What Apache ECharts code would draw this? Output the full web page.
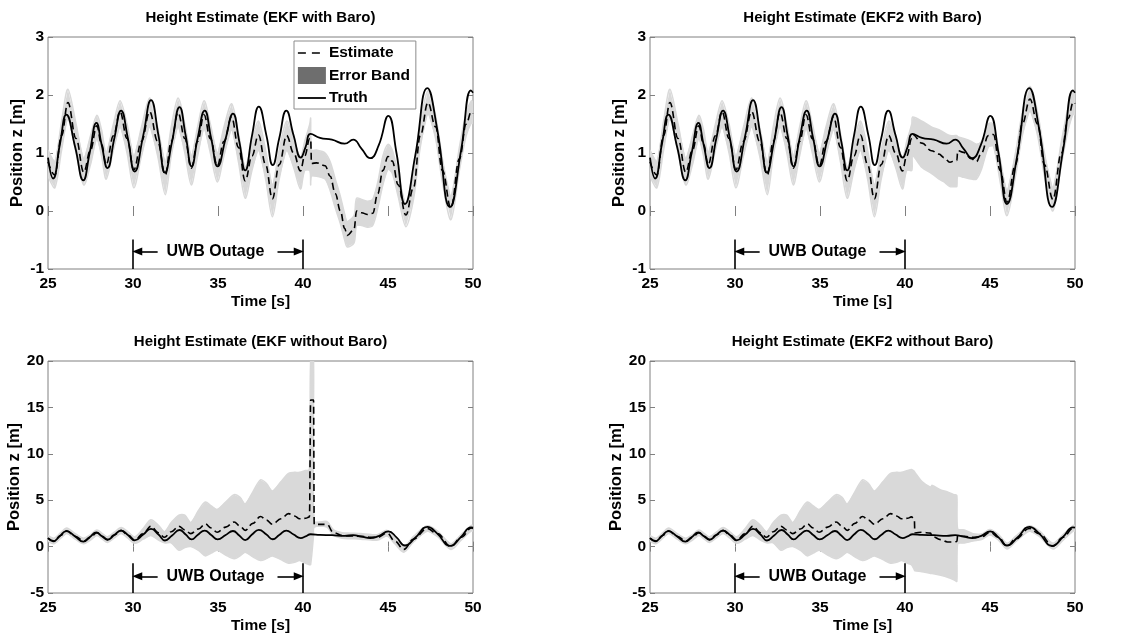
<!DOCTYPE html>
<html><head><meta charset="utf-8">
<script src="https://cdn.jsdelivr.net/npm/echarts@6/dist/echarts.min.js"></script>
<style>html,body{margin:0;padding:0;background:#fff}#c{width:1128px;height:637px}</style>
</head><body><div id="c"></div>
<script>
// ---------------- DATA ----------------
const panelTitles = ['Height Estimate (EKF with Baro)', 'Height Estimate (EKF2 with Baro)',
  'Height Estimate (EKF without Baro)', 'Height Estimate (EKF2 without Baro)'];
const legendNames = ['Estimate', 'Error Band', 'Truth'];
const outageLabel = 'UWB Outage';
const outageStart = 30, outageEnd = 40;

// Truth (same flight in all four panels)
const truthT = [25.0,25.3,25.7,26.08,26.6,27.08,27.45,27.85,28.15,28.5,28.9,29.3,29.7,30.1,30.6,31.06,31.5,31.88,32.3,32.74,33.1,33.45,33.8,34.22,34.6,34.98,35.45,35.88,36.25,36.6,37.0,37.4,37.85,38.22,38.6,39.02,39.45,39.87,40.15,40.45,41.0,41.7,42.45,42.95,43.45,43.95,44.45,45.02,45.5,46.0,46.6,47.32,47.9,48.65,49.3,49.88,50.0];
const truthZ = [0.92,0.56,1.15,1.66,1.1,0.53,1.0,1.52,1.15,0.74,1.25,1.73,1.25,0.68,1.3,1.91,1.3,0.66,1.2,1.79,1.3,0.77,1.25,1.73,1.25,0.77,1.25,1.68,1.2,0.70,1.3,1.80,1.3,0.79,1.25,1.73,1.3,0.92,1.1,1.33,1.26,1.23,1.16,1.23,1.07,0.91,1.13,1.64,1.0,0.12,0.95,2.12,1.4,0.07,1.05,2.08,2.04];

// With baro, 25 s – 40.4 s (identical for EKF and EKF2)
const baroPreT  = [25.0,25.4,25.8,26.17,26.65,27.1,27.5,27.87,28.15,28.42,28.85,29.24,29.65,30.05,30.5,30.98,31.45,31.9,32.25,32.65,33.05,33.43,33.8,34.18,34.55,34.96,35.35,35.8,36.2,36.6,37.0,37.38,37.8,38.2,38.6,39.04,39.45,39.85,40.1,40.4];
const baroPreZ  = [0.85,0.62,1.3,1.87,1.25,0.67,1.05,1.47,1.15,0.80,1.3,1.71,1.25,0.71,1.2,1.71,1.2,0.62,1.2,1.70,1.25,0.74,1.2,1.66,1.25,0.78,1.2,1.62,1.1,0.52,0.95,1.31,0.8,0.21,0.8,1.30,1.0,0.69,0.95,1.25];
const baroPreLo = [0.6,0.4,1.05,1.6,1.0,0.45,0.8,1.25,0.95,0.55,1.05,1.45,1.0,0.4,0.95,1.45,0.95,0.28,0.95,1.45,1.0,0.45,0.95,1.42,1.0,0.5,0.95,1.4,0.85,0.22,0.7,1.05,0.55,-0.1,0.55,1.05,0.75,0.38,0.7,0.7];
const baroPreHi = [1.05,0.85,1.55,2.1,1.5,0.9,1.3,1.65,1.4,1.0,1.5,1.9,1.5,0.95,1.45,1.95,1.45,0.85,1.45,1.95,1.5,0.95,1.45,1.9,1.5,1.0,1.45,1.85,1.35,0.75,1.2,1.55,1.05,0.45,1.05,1.55,1.25,0.92,1.2,1.5];

// EKF with baro, after 40.4 s
const ekfBaroT  = [40.45,40.5,40.8,41.3,41.6,41.9,42.2,42.45,42.6,43.0,43.15,43.45,43.8,44.1,44.4,44.7,45.0,45.25,45.6,46.05,46.5,46.9,47.35,47.8,48.2,48.7,49.2,49.6,49.9,50.0];
const ekfBaroZ  = [1.25,0.82,0.83,0.78,0.6,0.3,0.0,-0.3,-0.42,-0.32,0.0,-0.03,-0.06,-0.04,0.3,0.7,0.94,0.86,0.45,-0.07,0.4,1.3,1.87,1.45,0.7,0.05,0.9,1.5,1.71,1.68];
const ekfBaroLo = [0.45,0.6,0.6,0.55,0.35,0.05,-0.22,-0.5,-0.62,-0.55,-0.25,-0.25,-0.28,-0.25,0.05,0.45,0.72,0.65,0.25,-0.27,0.2,1.1,1.68,1.25,0.5,-0.15,0.7,1.3,1.52,1.5];
const ekfBaroHi = [1.6,1.05,1.05,1.0,0.85,0.55,0.25,-0.05,-0.18,-0.08,0.22,0.2,0.17,0.2,0.5,0.95,1.15,1.05,0.65,0.12,0.6,1.5,2.07,1.65,0.9,0.25,1.1,1.7,1.9,1.88];

// EKF2 with baro, after 40.4 s
const ekf2BaroT  = [40.45,41.0,41.55,42.0,42.3,42.64,42.96,43.05,43.1,43.45,43.9,44.2,44.5,44.9,45.2,45.6,46.0,46.5,46.9,47.35,47.8,48.2,48.7,49.2,49.6,49.9,50.0];
const ekf2BaroZ  = [1.32,1.17,1.04,0.98,0.92,0.84,0.87,0.87,1.04,1.01,0.9,0.85,1.0,1.3,1.32,0.7,0.15,0.8,1.5,1.93,1.5,0.8,0.2,1.0,1.6,1.88,1.85];
const ekf2BaroLo = [0.95,0.75,0.65,0.55,0.5,0.42,0.42,0.42,0.6,0.58,0.55,0.55,0.72,1.1,1.12,0.5,-0.08,0.6,1.3,1.72,1.3,0.6,0.0,0.8,1.4,1.68,1.65];
const ekf2BaroHi = [1.62,1.55,1.45,1.4,1.35,1.3,1.3,1.3,1.28,1.25,1.2,1.15,1.2,1.5,1.5,0.9,0.35,1.0,1.7,2.15,1.7,1.0,0.4,1.2,1.8,2.08,2.05];

// Without baro, 25 s – 40.38 s (identical for EKF and EKF2)
const noBaroPreT  = [25.0,25.35,25.75,26.1,26.6,27.1,27.5,27.87,28.2,28.5,28.9,29.3,29.7,30.1,30.6,31.05,31.5,31.85,32.25,32.7,33.05,33.4,33.85,34.25,34.6,34.95,35.45,35.95,36.3,36.6,37.05,37.5,37.85,38.2,38.7,39.15,39.5,39.8,40.15,40.38];
const noBaroPreZ  = [0.9,0.6,1.2,1.7,1.1,0.6,1.0,1.5,1.1,0.75,1.25,1.75,1.25,0.7,1.4,2.2,1.5,1.0,1.6,2.2,1.8,1.4,1.9,2.45,2.0,1.55,2.1,2.65,2.2,1.75,2.5,3.25,2.85,2.4,3.0,3.55,3.3,3.0,3.05,3.2];
const noBaroPreLo = [0.6,0.3,0.9,1.4,0.8,0.3,0.7,1.2,0.8,0.45,0.95,1.4,0.9,0.35,0.8,1.2,0.7,0.4,0.4,-0.4,-0.1,0.0,-0.4,-1.0,-0.7,-0.4,-0.9,-1.3,-1.0,-0.6,-1.1,-1.5,-1.3,-1.0,-1.4,-1.8,-1.7,-1.5,-1.8,-1.95];
const noBaroPreHi = [1.2,0.9,1.5,2.0,1.4,0.9,1.3,1.8,1.4,1.05,1.55,2.05,1.6,1.05,1.95,2.9,2.3,1.6,2.6,3.4,3.4,2.6,3.9,4.8,4.4,4.0,4.8,5.6,5.3,4.6,5.9,7.2,6.8,6.0,7.0,7.9,8.0,8.0,8.2,8.3];

// EKF without baro, after 40.38 s (band clipped at the top of the axis)
const ekfNoBaroT  = [40.45,40.62,40.66,41.4,41.8,42.3,42.8,43.4,44.0,44.4,44.95,45.4,45.93,46.5,47.3,47.9,48.7,49.3,49.9,50.0];
const ekfNoBaroZ  = [15.8,15.8,2.4,2.4,1.5,1.2,1.15,1.1,1.0,1.0,1.45,0.6,-0.3,0.8,1.95,1.4,0.0,1.0,2.0,1.95];
const ekfNoBaroLo = [-1.95,1.2,2.1,2.1,1.2,0.9,0.85,0.8,0.7,0.7,1.15,0.3,-0.6,0.5,1.65,1.1,-0.3,0.7,1.7,1.65];
const ekfNoBaroHi = [20,20,2.7,2.7,1.8,1.5,1.45,1.4,1.3,1.3,1.75,0.9,0.0,1.1,2.25,1.7,0.3,1.3,2.3,2.25];

// EKF2 without baro, after 40.38 s
const ekf2NoBaroT  = [40.55,40.58,41.0,41.5,41.6,42.1,42.5,42.9,43.05,43.1,43.5,44.0,44.5,45.0,45.5,46.0,46.5,47.3,47.9,48.7,49.3,49.9,50.0];
const ekf2NoBaroZ  = [2.9,1.5,1.55,1.45,1.1,0.75,0.5,0.5,0.55,1.2,1.1,1.0,1.05,1.55,1.0,0.05,0.8,1.95,1.4,0.05,1.0,2.0,1.95];
const ekf2NoBaroLo = [-2.5,-2.6,-2.7,-2.9,-2.9,-3.1,-3.3,-3.6,-3.75,0.3,0.4,0.6,0.75,1.25,0.7,-0.25,0.5,1.65,1.1,-0.25,0.7,1.7,1.65];
const ekf2NoBaroHi = [8.1,8.0,7.0,6.4,6.6,6.1,5.9,5.6,5.5,1.9,1.8,1.4,1.35,1.85,1.3,0.35,1.1,2.25,1.7,0.35,1.3,2.3,2.25];

// Axis ranges / ticks
const xMin = 25, xMax = 50, xStep = 5;
const yTopRange = [-1, 3, 1];
const yBottomRange = [-5, 20, 5];
// Outage annotation heights (data units): [line top, arrow/text level]
const annotTop = [-0.49, -0.7];
const annotBottom = [-1.8, -3.2];

// ---------------- CHART ----------------
const FONT = '"Liberation Sans", Arial, Helvetica, sans-serif';
const zip = (a, b) => a.map((v, i) => [v, b[i]]);
const zip3 = (a, b, c) => a.map((v, i) => [v, b[i], c[i]]);

const panels = [
  {title: panelTitles[0], left: 48, top: 37, yr: yTopRange, an: annotTop,
   estT: baroPreT.concat(ekfBaroT), estZ: baroPreZ.concat(ekfBaroZ),
   lo: baroPreLo.concat(ekfBaroLo), hi: baroPreHi.concat(ekfBaroHi)},
  {title: panelTitles[1], left: 650, top: 37, yr: yTopRange, an: annotTop,
   estT: baroPreT.concat(ekf2BaroT), estZ: baroPreZ.concat(ekf2BaroZ),
   lo: baroPreLo.concat(ekf2BaroLo), hi: baroPreHi.concat(ekf2BaroHi)},
  {title: panelTitles[2], left: 48, top: 361, yr: yBottomRange, an: annotBottom,
   estT: noBaroPreT.concat(ekfNoBaroT), estZ: noBaroPreZ.concat(ekfNoBaroZ),
   lo: noBaroPreLo.concat(ekfNoBaroLo), hi: noBaroPreHi.concat(ekfNoBaroHi)},
  {title: panelTitles[3], left: 650, top: 361, yr: yBottomRange, an: annotBottom,
   estT: noBaroPreT.concat(ekf2NoBaroT), estZ: noBaroPreZ.concat(ekf2NoBaroZ),
   lo: noBaroPreLo.concat(ekf2NoBaroLo), hi: noBaroPreHi.concat(ekf2NoBaroHi)}
];
const W = 425, H = 232;
const AXC = '#808080';
const labelFont = {color: '#000', fontFamily: FONT, fontWeight: 'bold', fontSize: 15.5};
const yNameFont = {color: '#000', fontFamily: FONT, fontWeight: 'bold', fontSize: 16.5};

const grid = [], xAxis = [], yAxis = [], series = [], title = [];
panels.forEach((p, k) => {
  grid.push({left: p.left, top: p.top, width: W, height: H, show: true,
    borderColor: AXC, borderWidth: 1, backgroundColor: 'transparent', containLabel: false});
  title.push({text: p.title, left: p.left + W / 2, top: p.top - 27, textAlign: 'center', padding: 0,
    textStyle: {color: '#000', fontFamily: FONT, fontWeight: 'bold', fontSize: 15}});
  const common = {gridIndex: k, type: 'value', splitLine: {show: false}, axisLine: {show: false},
    axisTick: {show: true, inside: true, length: 5, lineStyle: {color: AXC}}};
  xAxis.push(Object.assign({}, common, {position: 'bottom', min: xMin, max: xMax, interval: xStep,
    axisLabel: Object.assign({margin: 7}, labelFont),
    name: 'Time [s]', nameLocation: 'middle', nameGap: 25, nameTextStyle: labelFont}));
  xAxis.push(Object.assign({}, common, {position: 'top', min: xMin, max: xMax, interval: xStep,
    axisLabel: {show: false}}));
  yAxis.push(Object.assign({}, common, {position: 'left', min: p.yr[0], max: p.yr[1], interval: p.yr[2],
    axisLabel: Object.assign({margin: 4}, labelFont),
    name: 'Position z [m]', nameLocation: 'middle', nameGap: 14, nameTextStyle: yNameFont}));
  yAxis.push(Object.assign({}, common, {position: 'right', min: p.yr[0], max: p.yr[1], interval: p.yr[2],
    axisLabel: {show: false}}));

  const rows = zip3(p.estT, p.lo, p.hi);
  series.push({
    type: 'custom', name: legendNames[1], xAxisIndex: 2 * k, yAxisIndex: 2 * k,
    data: rows, encode: {x: 0, y: [1, 2]}, clip: true, silent: true, z: 1,
    itemStyle: {color: '#d9d9d9'},
    renderItem: function (params, api) {
      if (params.dataIndex !== 0) return null;
      const up = [], dn = [];
      rows.forEach(r => { up.push(api.coord([r[0], r[2]])); dn.push(api.coord([r[0], r[1]])); });
      const cs = params.coordSys;
      return {type: 'group', clipPath: {type: 'rect', shape: {x: cs.x, y: cs.y, width: cs.width, height: cs.height}},
        children: [
          {type: 'polyline', shape: {points: up, smooth: 0.3}, style: {stroke: '#d9d9d9', lineWidth: 1.5, fill: null}},
          {type: 'polyline', shape: {points: dn, smooth: 0.3}, style: {stroke: '#d9d9d9', lineWidth: 1.5, fill: null}},
          {type: 'polygon', shape: {points: up.concat(dn.slice().reverse())}, style: {fill: '#d9d9d9', stroke: null}}
        ]};
    }
  });
  const ya = p.an[1], yt = p.an[0], yb = p.yr[0];
  series.push({
    type: 'line', name: legendNames[2], xAxisIndex: 2 * k, yAxisIndex: 2 * k,
    data: zip(truthT, truthZ), showSymbol: false, symbol: 'none', smooth: 0.5,
    lineStyle: {color: '#000', width: 1.8, type: 'solid'}, itemStyle: {color: '#000'}, z: 3,
    markLine: {silent: true, symbol: ['none', 'none'], animation: false,
      lineStyle: {color: '#000', width: 1.6, type: 'solid'}, label: {show: false},
      data: [
        [{coord: [outageStart, yb]}, {coord: [outageStart, yt]}],
        [{coord: [outageEnd, yb]}, {coord: [outageEnd, yt]}],
        [{coord: [31.45, ya]}, {coord: [30.25, ya], symbol: 'triangle', symbolSize: [8, 10]}],
        [{coord: [38.5, ya]}, {coord: [39.75, ya], symbol: 'triangle', symbolSize: [8, 10]}]
      ]},
    markPoint: {silent: true, animation: false, symbol: 'circle', symbolSize: 1,
      itemStyle: {color: 'rgba(0,0,0,0)'},
      label: Object.assign({show: true, position: 'inside', formatter: outageLabel}, labelFont, {fontSize: 16}),
      data: [{coord: [34.85, ya]}]}
  });
  series.push({
    type: 'line', name: legendNames[0], xAxisIndex: 2 * k, yAxisIndex: 2 * k,
    data: zip(p.estT, p.estZ), showSymbol: false, symbol: 'none', smooth: 0.4, smoothMonotone: 'x',
    lineStyle: {color: '#000', width: 1.6, type: [7, 4]}, itemStyle: {color: '#000'}, z: 2
  });
});

const hiddenSym = {color: 'rgba(0,0,0,0)', borderWidth: 0, opacity: 0};
const chart = echarts.init(document.getElementById('c'));
chart.setOption({
  animation: false,
  backgroundColor: '#fff',
  title: title,
  grid: grid, xAxis: xAxis, yAxis: yAxis, series: series,
  legend: {
    orient: 'vertical', left: 294, top: 41, itemWidth: 28, itemHeight: 17, itemGap: 6,
    padding: [4, 6, 3, 3], borderColor: '#8c8c8c', borderWidth: 1, backgroundColor: '#fff',
    selectedMode: false,
    textStyle: {color: '#000', fontFamily: FONT, fontWeight: 'bold', fontSize: 15.5, padding: [0, 0, 0, -2]},
    data: [
      {name: legendNames[0], itemStyle: hiddenSym, lineStyle: {color: '#000', width: 1.6, type: [8, 6]}},
      {name: legendNames[1], icon: 'rect', itemStyle: {color: '#6e6e6e'}},
      {name: legendNames[2], itemStyle: hiddenSym, lineStyle: {color: '#000', width: 1.8, type: 'solid'}}
    ]
  }
});
</script></body></html>
